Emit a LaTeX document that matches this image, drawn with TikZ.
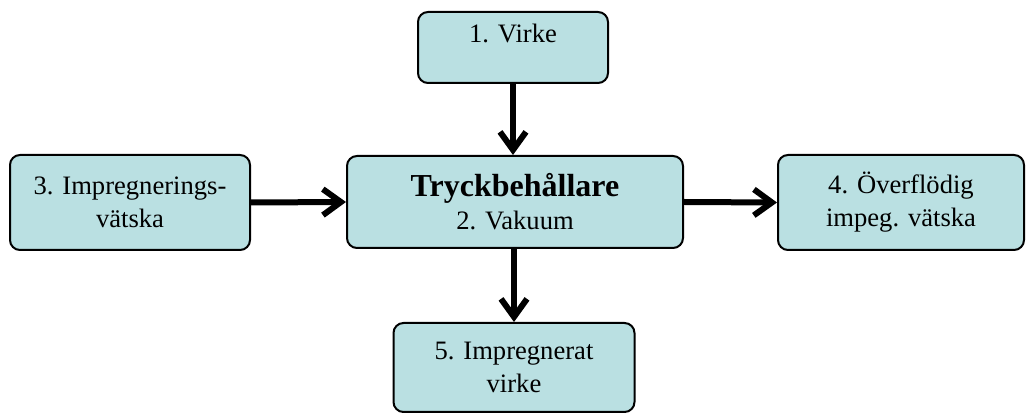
\documentclass[tikz,border=0pt]{standalone}
\usepackage{fontspec}
\setmainfont{Liberation Serif}
\usetikzlibrary{arrows.meta}

\definecolor{boxfill}{RGB}{186,224,226}

\tikzset{
  box/.style={draw=black, fill=boxfill, line width=1pt, rounded corners=5pt,
    align=center, font=\fontsize{13.3}{16.5}\selectfont, inner sep=0pt},
  flow/.style={line width=3pt, -{Straight Barb[length=9pt, width=13pt, line width=3pt]}},
}

\begin{document}
\begin{tikzpicture}
  \useasboundingbox (0,0) rectangle (514pt,-208pt);
  % boxes
  \node[box, minimum width=95pt, minimum height=35.5pt, text height=9.5pt, text depth=14.5pt]
    (virke) at (256.5pt,-23.75pt) {1. Virke};
  \node[box, minimum width=168pt, minimum height=46pt]
    (tank) at (257.5pt,-101pt) {{\fontsize{16}{16.5}\selectfont\bfseries Tryckbehållare}\\2. Vakuum};
  \node[box, minimum width=120pt, minimum height=47.5pt]
    (vatska) at (65pt,-101.25pt) {3. Impregnerings-\\vätska};
  \node[box, minimum width=123pt, minimum height=47.5pt]
    (over) at (450.5pt,-101.25pt) {4. Överflödig\\impeg. vätska};
  \node[box, minimum width=120.5pt, minimum height=44.5pt]
    (impr) at (257pt,-183.75pt) {5. Impregnerat\\virke};
  % arrows
  \draw[flow] (virke.south) -- (virke.south |- tank.north);
  \draw[flow] (vatska.east) -- (tank.west);
  \draw[flow] (tank.east) -- (over.west);
  \draw[flow] (impr.north |- tank.south) -- (impr.north);
\end{tikzpicture}
\end{document}
